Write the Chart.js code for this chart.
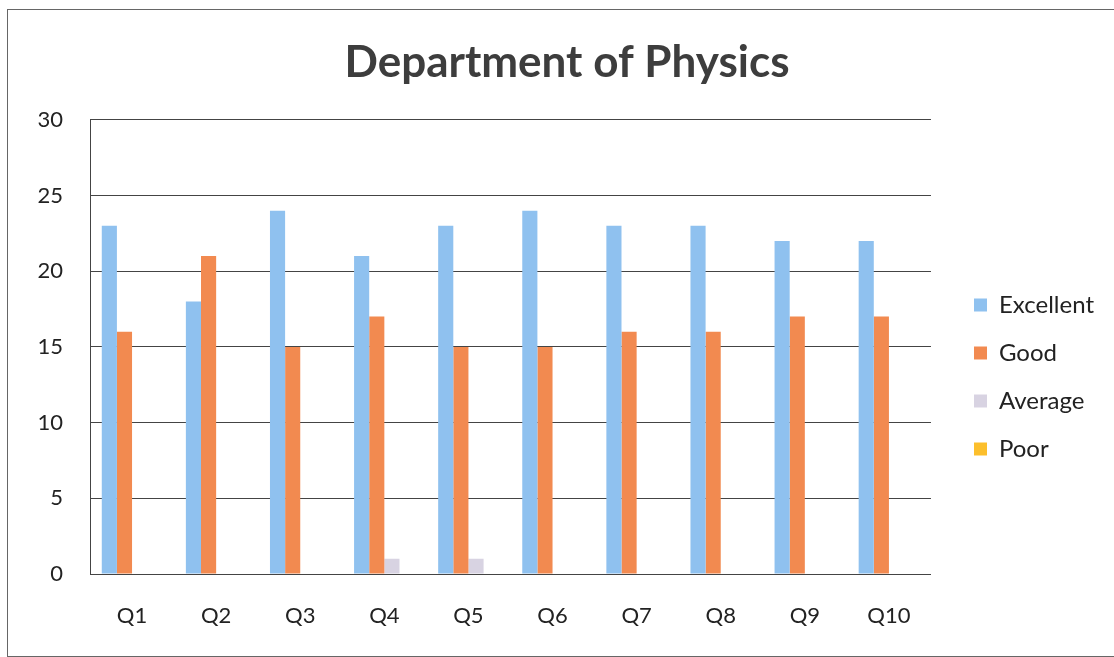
<!DOCTYPE html>
<html>
<head>
<meta charset="utf-8">
<script src="https://cdn.jsdelivr.net/npm/chart.js@4"></script>
<style>
  html, body { margin: 0; padding: 0; background: #fff; overflow: hidden; }
  #wrap { position: relative; width: 1114px; height: 657px; }
  #frame { position: absolute; left: 7px; top: 9px; width: 1200px; height: 646px; border: 1px solid #666; pointer-events: none; }
</style>
</head>
<body>
<div id="wrap">
  <canvas id="chart" width="1114" height="657"></canvas>
  <div id="frame"></div>
</div>
<script>
  // data
  var questions = ['Q1', 'Q2', 'Q3', 'Q4', 'Q5', 'Q6', 'Q7', 'Q8', 'Q9', 'Q10'];
  var excellent = [23, 18, 24, 21, 23, 24, 23, 23, 22, 22];
  var good      = [16, 21, 15, 17, 15, 15, 16, 16, 17, 17];
  var average   = [0, 0, 0, 1, 1, 0, 0, 0, 0, 0];
  var poor      = [0, 0, 0, 0, 0, 0, 0, 0, 0, 0];
  var yTicks = [0, 5, 10, 15, 20, 25, 30];

  var ctx = document.getElementById('chart').getContext('2d');
  var chart = new Chart(ctx, {
    type: 'bar',
    data: {
      labels: questions,
      datasets: [
        { label: 'Excellent', data: excellent, backgroundColor: '#8fc1ef' },
        { label: 'Good', data: good, backgroundColor: '#f28a50' },
        { label: 'Average', data: average, backgroundColor: '#d8d3e2' },
        { label: 'Poor', data: poor, backgroundColor: '#fcbf2c' }
      ]
    },
    options: {
      responsive: false,
      animation: false,
      layout: { padding: { left: 30, right: 10, top: 0, bottom: 27 } },
      datasets: {
        bar: { categoryPercentage: 0.72, barPercentage: 1.0 }
      },
      scales: {
        x: {
          afterFit: function(scale) { scale.height = 56; },
          grid: { display: false, drawTicks: false },
          border: { display: true, color: '#444', width: 1 },
          ticks: { color: '#222', padding: 29, font: { family: 'Lato', size: 22 } }
        },
        y: {
          min: 0,
          max: 30,
          afterBuildTicks: function(scale) {
            scale.ticks = yTicks.map(function(v) { return { value: v }; });
          },
          afterFit: function(scale) { scale.width = 60; },
          grid: { color: '#444', lineWidth: 1, drawTicks: false },
          border: { display: true, color: '#444', width: 1 },
          ticks: { color: '#222', padding: 27, font: { family: 'Lato', size: 22 } }
        },
        gap: {
          position: 'right',
          display: true,
          grid: { display: false, drawTicks: false },
          border: { display: false },
          ticks: { display: false },
          afterFit: function(scale) { scale.width = 19; }
        }
      },
      plugins: {
        title: {
          display: true,
          text: 'Department of Physics',
          color: '#3d3d3d',
          font: { family: 'Lato', size: 44, weight: 'bold' },
          padding: { top: 36, bottom: 31 }
        },
        legend: {
          position: 'right',
          align: 'start',
          maxWidth: 163,
          title: { display: true, text: '', font: { size: 10 }, padding: { top: 0, bottom: 257 } },
          labels: {
            boxWidth: 13,
            boxHeight: 13,
            padding: 24,
            color: '#222',
            font: { family: 'Lato', size: 24 }
          }
        },
        tooltip: { enabled: false }
      }
    }
  });
</script>
</body>
</html>
